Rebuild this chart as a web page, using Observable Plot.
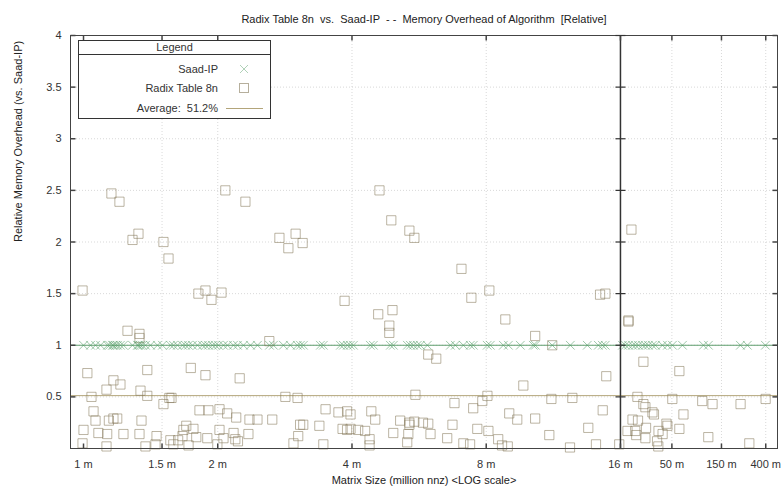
<!DOCTYPE html>
<html><head><meta charset="utf-8">
<script src="https://cdn.jsdelivr.net/npm/d3@7"></script>
<script src="https://cdn.jsdelivr.net/npm/@observablehq/plot@0.6"></script>
<style>
body{margin:0;background:#fff;}
#wrap{position:relative;width:782px;height:495px;font-family:"Liberation Sans",Arial,sans-serif;color:#333;}
#legend{position:absolute;left:78px;top:40px;width:191px;height:77px;border:1px solid #333;background:#fff;font-size:11px;}
#legend .hd{position:absolute;left:0;top:0;width:191px;height:13px;border-bottom:1px solid #333;text-align:center;line-height:13px;}
#legend .row{position:absolute;left:0;width:139px;text-align:right;line-height:12px;white-space:pre;}
#legend svg{position:absolute;}
</style></head>
<body><div id="wrap"></div>
<script>
// ---- data ----
const chartTitle = "Radix Table 8n  vs.  Saad-IP  - -  Memory Overhead of Algorithm  [Relative]";
const xTitle = "Matrix Size (million nnz) <LOG scale>";
const yTitle = "Relative Memory Overhead (vs. Saad-IP)";
const xTickValues = [1, 1.5, 2, 4, 8, 16, 50, 150, 400];
const xTickLabels = ["1 m", "1.5 m", "2 m", "4 m", "8 m", "16 m", "50 m", "150 m", "400 m"];
const yTickValues = [0.5, 1, 1.5, 2, 2.5, 3, 3.5, 4];
const averageOverhead = 0.512;
const averageLabel = "Average:  51.2%";
const saadRatio = 1;
const saadSize = [1.00,1.037,1.064,1.092,1.132,1.144,1.161,1.167,1.18,1.192,1.21,1.229,1.288,1.321,1.328,1.342,1.356,1.377,1.413,1.465,1.503,1.567,1.591,1.624,1.667,1.693,1.719,1.755,1.801,1.848,1.877,1.906,1.946,1.976,2.007,2.06,2.103,2.169,2.214,2.284,2.368,2.455,2.612,2.666,2.807,2.91,3.017,3.065,3.113,3.398,3.45,3.768,3.826,3.906,3.967,4.03,4.398,4.467,4.877,4.953,5.324,5.407,5.492,5.606,5.693,5.903,6.648,6.82,7.109,7.37,7.484,8.04,8.17,8.74,8.97,9.54,10.2,10.31,11.25,12.35,13.48,14.27,14.57,14.79,16.72,17.87,19.1,20.9,22.3,23.8,26.1,27.8,29.7,32.5,34.7,40.5,45.3,50.6,63.2,100.6,112.3,228,266,397];
const radixSize = [0.995,1.155,1.204,1.288,1.328,1.511,1.551,1.81,1.877,1.936,2.039,2.08,2.307,2.75,2.88,2.99,3.10,3.85,4.61,4.90,5.38,5.52,7.04,7.41,8.13,4.58,4.93,8.83,14.4,14.8,20.4,19.1,19.1,
1.255,1.335,1.335,2.61,4.85,4.85,10.3,11.25,1.02,1.39,1.74,1.877,2.24,1.167,1.21,1.126,1.042,1.342,1.39,1.511,1.558,1.575,2.836,3.02,5.93,6.18,9.69,5.55,8.05,7.84,6.79,7.48,14.87,11.2,12.48,14.6,26.6,59,23.3,26.6,27.8,32.5,33.6,50.5,64.6,98,123,229,399,
1.053,1.064,1.167,1.14,1.19,1.349,1.82,1.906,2.018,2.10,2.20,2.356,2.455,2.65,1.0,1.08,1.13,1.229,1.335,1.458,1.566,1.667,1.70,1.764,1.675,1.79,1.895,2.018,2.06,2.17,2.19,2.343,2.957,3.03,3.11,3.06,0.995,1.126,1.377,1.45,1.59,1.63,1.72,1.996,2.22,
3.49,3.73,3.90,3.97,4.42,4.51,9.01,9.39,10.3,3.38,3.81,3.90,3.97,4.13,4.28,5.13,5.38,5.52,5.77,5.38,5.93,4.95,5.35,6.0,6.72,7.64,8.09,3.45,4.38,4.38,5.32,6.54,7.11,7.36,8.51,8.68,8.94,
13.55,11.08,12.33,14.1,15.9,20.9,23.6,22.2,18.7,28.2,22.7,27.8,37.2,40.7,44.3,45.3,59,36,37,112,278];
const radixOverhead = [1.53,2.47,2.39,2.02,2.08,2.00,1.84,1.50,1.53,1.44,1.51,2.50,2.39,2.04,1.94,2.08,1.99,1.43,2.50,2.21,2.11,2.04,1.74,1.46,1.53,1.30,1.34,1.25,1.49,1.50,2.12,1.24,1.23,
1.14,1.11,1.07,1.04,1.19,1.12,1.09,1.00,0.73,0.76,0.78,0.71,0.68,0.66,0.62,0.57,0.50,0.56,0.51,0.43,0.49,0.49,0.50,0.49,0.91,0.87,0.61,0.52,0.51,0.46,0.44,0.39,0.70,0.48,0.49,0.37,0.84,0.75,0.50,0.43,0.40,0.35,0.33,0.48,0.33,0.46,0.43,0.43,0.48,
0.36,0.27,0.29,0.27,0.29,0.27,0.37,0.37,0.38,0.34,0.30,0.28,0.28,0.28,0.18,0.15,0.14,0.14,0.14,0.12,0.08,0.12,0.22,0.19,0.18,0.11,0.10,0.18,0.10,0.15,0.09,0.14,0.05,0.12,0.23,0.23,0.05,0.02,0.02,0.04,0.04,0.08,0.03,0.04,0.07,
0.38,0.35,0.36,0.33,0.36,0.28,0.34,0.28,0.29,0.22,0.19,0.18,0.19,0.18,0.17,0.27,0.25,0.26,0.25,0.23,0.24,0.15,0.14,0.14,0.23,0.19,0.17,0.04,0.09,0.03,0.06,0.10,0.05,0.04,0.09,0.03,0.02,
0.20,0.13,0.01,0.04,0.04,0.28,0.27,0.17,0.17,0.20,0.13,0.10,0.17,0.14,0.24,0.22,0.19,0.07,0.02,0.11,0.05];
const xMin = 0.935, xMax = 519, xBreak = 16;

// ---- broken log scale: full doublings below 16 m, compressed above ----
const K = 31.3 / 134.3;
const tx = v => v <= xBreak ? Math.log2(v) : Math.log2(xBreak) + Math.log2(v / xBreak) * K;
const tickPos = xTickValues.map(tx);
const labelOf = new Map(tickPos.map((p, i) => [p, xTickLabels[i]]));

const saad = saadSize.map(s => ({x: tx(s), y: saadRatio}));
const radix = radixSize.map((s, i) => ({x: tx(s), y: radixOverhead[i]}));

// custom tick symbols (half segments / full segment)
const seg = (dx1, dy1, dx2, dy2) => ({draw(ctx, size){const r = Math.sqrt(size / Math.PI); ctx.moveTo(dx1*r, dy1*r); ctx.lineTo(dx2*r, dy2*r);}});
const tickUp = seg(0,0,0,-1), tickDown = seg(0,0,0,1), tickRight = seg(0,0,1,0), tickLeft = seg(0,0,-1,0), tickBoth = seg(-1,0,1,0);

const ink = "#444";
const x0 = tx(xMin), x1 = tx(xMax);
const chart = Plot.plot({
  width: 782, height: 495,
  marginLeft: 70, marginRight: 5, marginTop: 35, marginBottom: 47,
  style: {fontFamily: "'Liberation Sans', Arial, sans-serif", fontSize: "11px", color: "#333", background: "#fff"},
  x: {type: "linear", domain: [x0, x1], axis: null},
  y: {type: "linear", domain: [0, 4], axis: null},
  marks: [
    Plot.gridX(tickPos.filter(p => p !== tx(xBreak) && p !== tx(1)), {stroke: "#aaa", strokeOpacity: 0.45, strokeDasharray: "1,2"}),
    Plot.gridY(yTickValues.filter(v => v < 4), {stroke: "#aaa", strokeOpacity: 0.45, strokeDasharray: "1,2"}),
    Plot.ruleY([saadRatio], {stroke: "#5f9e6e", strokeWidth: 1}),
    Plot.ruleY([averageOverhead], {stroke: "#b3a57a", strokeWidth: 1}),
    Plot.dot(radix, {x: "x", y: "y", symbol: "square", r: 5.2, stroke: "#85795a", strokeOpacity: 0.55, strokeWidth: 1, fill: "none"}),
    Plot.dot(saad, {x: "x", y: "y", symbol: "times", r: 4, stroke: "#4f9a62", strokeOpacity: 0.55, strokeWidth: 1}),
    Plot.ruleX([tx(xBreak)], {stroke: "#333", strokeWidth: 1.5}),
    Plot.frame({stroke: ink}),
    // inward ticks
    Plot.dot(tickPos, {x: d => d, y: () => 0, symbol: tickUp, r: 5, stroke: ink}),
    Plot.dot(tickPos, {x: d => d, y: () => 4, symbol: tickDown, r: 5, stroke: ink}),
    Plot.dot(yTickValues, {x: () => x0, y: d => d, symbol: tickRight, r: 5, stroke: ink}),
    Plot.dot(yTickValues, {x: () => x1, y: d => d, symbol: tickLeft, r: 5, stroke: ink}),
    Plot.dot(yTickValues, {x: () => tx(xBreak), y: d => d, symbol: tickBoth, r: 5, stroke: "#333", strokeWidth: 1.2}),
    // tick labels
    Plot.text(tickPos, {x: d => d, y: () => 0, text: d => labelOf.get(d), dy: 16, fill: "#333", fontSize: 11}),
    Plot.text(yTickValues, {x: () => x0, y: d => d, text: d => String(d), dx: -9, textAnchor: "end", fill: "#333", fontSize: 11}),
    // titles
    Plot.text([chartTitle], {frameAnchor: "top", dy: -20, fill: "#222", fontSize: 11}),
    Plot.text([xTitle], {frameAnchor: "bottom", dy: 35, fill: "#222", fontSize: 11}),
    Plot.text([yTitle], {frameAnchor: "left", rotate: -90, dx: -52, fill: "#222", fontSize: 11})
  ]
});
const wrap = document.getElementById("wrap");
wrap.appendChild(chart);

// legend
const lg = document.createElement("div");
lg.id = "legend";
lg.innerHTML = `<div class="hd">Legend</div>
<div class="row" style="top:22px">Saad-IP</div>
<svg style="left:159px;top:22px" width="12" height="12"><path d="M2,2L10,10M10,2L2,10" stroke="#4f9a62" stroke-opacity="0.45" fill="none"/></svg>
<div class="row" style="top:41px">Radix Table 8n</div>
<svg style="left:159px;top:41px" width="12" height="12"><rect x="1.5" y="1.5" width="9" height="9" stroke="#85795a" stroke-opacity="0.6" fill="none"/></svg>
<div class="row" style="top:61px">${averageLabel}</div>
<svg style="left:146px;top:61px" width="40" height="12"><line x1="1" y1="6.5" x2="38" y2="6.5" stroke="#b3a57a"/></svg>`;
wrap.appendChild(lg);
</script>
</body></html>
